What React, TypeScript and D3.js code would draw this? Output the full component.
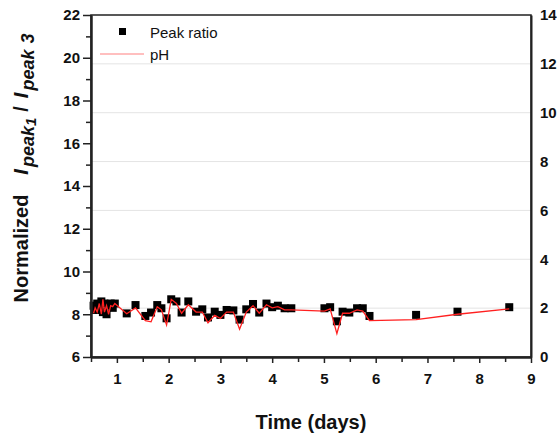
import { useEffect, useRef } from 'react';
import * as d3 from 'd3';

// time (days) of each sample
const timeDays = [
    0.55, 0.58, 0.62, 0.66, 0.7, 0.73, 0.76, 0.8, 0.84, 0.88, 0.92, 0.96,
    1.19, 1.36, 1.55, 1.66, 1.78, 1.86, 1.96, 2.05, 2.15, 2.25, 2.38, 2.53,
    2.65, 2.76, 2.89, 3.0, 3.12, 3.25, 3.37, 3.5, 3.63, 3.75, 3.89, 4.0,
    4.11, 4.24, 4.37, 5.01, 5.12, 5.25, 5.36, 5.49, 5.64, 5.75, 5.88, 6.78,
    7.58, 8.58,
];

// normalized I_peak1 / I_peak3 (left axis)
const peakRatio = [
    8.4, 8.2, 8.5, 8.3, 8.6, 8.1, 8.5, 8.0, 8.4, 8.5, 8.3, 8.5,
    8.04, 8.43, 7.92, 8.08, 8.43, 8.28, 7.81, 8.7, 8.6, 8.08, 8.6, 8.12,
    8.23, 7.85, 8.12, 7.97, 8.2, 8.18, 7.75, 8.23, 8.48, 8.08, 8.5, 8.33,
    8.4, 8.28, 8.28, 8.28, 8.33, 7.67, 8.12, 8.08, 8.28, 8.28, 7.92, 7.97,
    8.12, 8.33,
];

// pH (right axis)
const pHValues = [
    1.79, 2.01, 1.84, 2.19, 1.75, 2.36, 1.84, 2.1, 1.75, 2.1, 2.06, 2.19,
    1.77, 2.01, 1.49, 1.44, 2.06, 1.93, 1.31, 2.36, 2.19, 1.79, 2.14, 1.84,
    1.84, 1.4, 1.71, 1.575, 1.84, 1.84, 1.14, 1.84, 2.1, 1.79, 2.14, 2.01,
    2.06, 1.93, 1.93, 1.88, 1.97, 0.96, 1.79, 1.79, 1.93, 1.88, 1.49, 1.53,
    1.75, 1.97,
];

const leftTicks = [6, 8, 10, 12, 14, 16, 18, 20, 22];
const leftMinor = [7, 9, 11, 13, 15, 17, 19, 21];
const rightTicks = [0, 2, 4, 6, 8, 10, 12, 14];
const gridTicks = [2, 4, 6, 8, 10, 12];
const xTicks = [1, 2, 3, 4, 5, 6, 7, 8, 9];
const xMinor = [0.5, 1.5, 2.5, 3.5, 4.5, 5.5, 6.5, 7.5, 8.5];

const FONT = '"Liberation Sans", Arial, sans-serif';

const App = () => {
    const svgRef = useRef<SVGSVGElement>(null);

    useEffect(() => {
        if (!svgRef.current) return;
        const svg = d3.select(svgRef.current);
        svg.selectAll('*').remove();

        const left = 91, right = 531, top = 15, bottom = 357;

        const x = d3.scaleLinear().domain([0.5, 9]).range([left, right]);
        const yL = d3.scaleLinear().domain([6, 22]).range([bottom, top]);
        const yR = d3.scaleLinear().domain([0, 14]).range([bottom, top]);

        svg.append('rect').attr('width', 558).attr('height', 439).attr('fill', '#fff');

        // gridlines
        svg.append('g')
            .selectAll('line')
            .data(gridTicks)
            .enter()
            .append('line')
            .attr('x1', left)
            .attr('x2', right)
            .attr('y1', (d) => yR(d))
            .attr('y2', (d) => yR(d))
            .attr('stroke', '#e4e4e4')
            .attr('stroke-width', 1);

        const pts = timeDays.map((t, i) => ({ t, p: pHValues[i], r: peakRatio[i] }));
        const line = d3
            .line<{ t: number; p: number }>()
            .x((d) => x(d.t))
            .y((d) => yR(d.p));

        // squares
        svg.append('g')
            .selectAll('rect')
            .data(pts)
            .enter()
            .append('rect')
            .attr('x', (d) => x(d.t) - 4)
            .attr('y', (d) => yL(d.r) - 4)
            .attr('width', 8)
            .attr('height', 8)
            .attr('fill', '#000');

        // pH line
        svg.append('path')
            .datum(pts)
            .attr('fill', 'none')
            .attr('stroke', '#ff2020')
            .attr('stroke-width', 1.3)
            .attr('d', line);

        // frame
        svg.append('rect')
            .attr('x', left)
            .attr('y', top)
            .attr('width', right - left)
            .attr('height', bottom - top)
            .attr('fill', 'none')
            .attr('stroke', '#222')
            .attr('stroke-width', 1.5);

        const styleAxis = (g: any) => {
            g.select('.domain').attr('stroke', '#222').attr('stroke-width', 2);
            g.selectAll('.tick line').attr('stroke', '#222').attr('stroke-width', 1.5);
            g.selectAll('.tick text')
                .attr('fill', '#111')
                .style('font-family', FONT)
                .style('font-weight', 'bold')
                .style('font-size', '15px');
        };

        // left axis
        svg.append('g')
            .attr('transform', `translate(${left},0)`)
            .call(d3.axisLeft(yL).tickValues(leftTicks).tickSize(8).tickSizeOuter(0).tickPadding(3))
            .call(styleAxis);
        svg.append('g')
            .attr('transform', `translate(${left},0)`)
            .call(d3.axisLeft(yL).tickValues(leftMinor).tickSize(5).tickSizeOuter(0).tickFormat(() => ''))
            .call(styleAxis);

        // bottom axis
        svg.append('g')
            .attr('transform', `translate(0,${bottom})`)
            .call(d3.axisBottom(x).tickValues(xTicks).tickSize(6).tickSizeOuter(0).tickPadding(10))
            .call(styleAxis);
        svg.append('g')
            .attr('transform', `translate(0,${bottom})`)
            .call(d3.axisBottom(x).tickValues(xMinor).tickSize(5).tickSizeOuter(0).tickFormat(() => ''))
            .call(styleAxis);

        // right axis
        svg.append('g')
            .attr('transform', `translate(${right},0)`)
            .call(d3.axisRight(yR).tickValues(rightTicks).tickSize(0).tickSizeOuter(0).tickPadding(9))
            .call(styleAxis);

        // axis titles
        svg.append('text')
            .attr('x', 311)
            .attr('y', 429)
            .attr('text-anchor', 'middle')
            .style('font-family', FONT)
            .style('font-weight', 'bold')
            .style('font-size', '20px')
            .attr('fill', '#111')
            .text('Time (days)');

        const yt = svg.append('text')
            .attr('transform', 'translate(28,168) rotate(-90)')
            .attr('text-anchor', 'middle')
            .style('font-family', FONT)
            .style('font-weight', 'bold')
            .style('font-size', '20px')
            .attr('fill', '#111');
        yt.append('tspan').text('Normalized');
        yt.append('tspan').attr('dx', 20).style('font-style', 'italic').text('I');
        yt.append('tspan').attr('dy', 6).attr('dx', 2).style('font-size', '18px').style('font-style', 'italic').text('peak');
        yt.append('tspan').attr('dy', 2).style('font-size', '15px').style('font-style', 'italic').text('1');
        yt.append('tspan').attr('dy', -8).attr('dx', 6).text('/');
        yt.append('tspan').attr('dx', 8).style('font-style', 'italic').text('I');
        yt.append('tspan').attr('dy', 6).attr('dx', 2).style('font-size', '18px').style('font-style', 'italic').text('peak');
        yt.append('tspan').attr('dx', 6).style('font-size', '18px').style('font-style', 'italic').text('3');

        // legend
        const legend = svg.append('g');
        legend.append('rect').attr('x', 119).attr('y', 28).attr('width', 7).attr('height', 7).attr('fill', '#000');
        legend.append('text')
            .attr('x', 150)
            .attr('y', 38)
            .style('font-family', FONT)
            .style('font-size', '15px')
            .attr('fill', '#111')
            .text('Peak ratio');
        legend.append('line')
            .attr('x1', 100)
            .attr('x2', 144)
            .attr('y1', 54)
            .attr('y2', 54)
            .attr('stroke', '#ff8080')
            .attr('stroke-width', 1.2);
        legend.append('text')
            .attr('x', 150)
            .attr('y', 60)
            .style('font-family', FONT)
            .style('font-size', '15px')
            .attr('fill', '#111')
            .text('pH');
    }, []);

    return (
        <svg
            ref={svgRef}
            width={558}
            height={439}
            style={{ position: 'absolute', left: 0, top: 0 }}
        ></svg>
    );
};

export default App;
